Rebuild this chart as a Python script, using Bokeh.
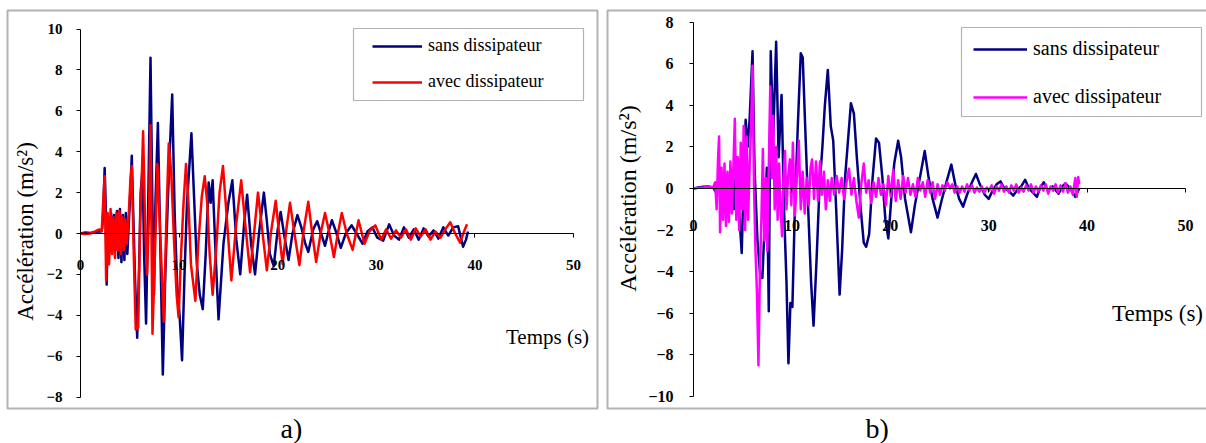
import math
from bokeh.plotting import figure
from bokeh.layouts import row
from bokeh.models import (Range1d, LinearAxis, FixedTicker, Label, Legend,
                          LegendItem, BoxAnnotation)
from bokeh.embed import file_html
from bokeh.resources import INLINE

# ---------------- data ----------------
X_TICKS = [0, 10, 20, 30, 40, 50]
Y_TICKS_A = [-8, -6, -4, -2, 0, 2, 4, 6, 8, 10]
Y_TICKS_B = [-10, -8, -6, -4, -2, 0, 2, 4, 6, 8]
LABEL_SANS = "sans dissipateur"
LABEL_AVEC = "avec dissipateur"

# panel a) - sans dissipateur
T_A_SANS = [0.0, 0.5, 1.0, 1.5, 2.0, 2.2, 2.3, 2.45, 2.55, 2.65,
            2.8, 2.95, 3.1, 3.25, 3.4, 3.55, 3.7, 3.85, 4.0, 4.15,
            4.3, 4.45, 4.6, 4.75, 4.9, 5.05, 5.2, 5.35, 5.55, 5.75,
            5.95, 6.1, 6.3, 6.45, 6.65, 6.85, 7.1, 7.3, 7.45, 7.6,
            7.85, 8.05, 8.35, 8.6, 8.85, 9.05, 9.3, 9.55, 9.8, 10.05,
            10.3, 10.55, 10.8, 11.0, 11.25, 11.5, 11.8, 12.1, 12.4, 12.7,
            13.0, 13.2, 13.4, 13.7, 14.0, 14.5, 15.0, 15.4, 15.8, 16.2,
            16.6, 16.9, 17.3, 17.7, 18.1, 18.6, 18.9, 19.2, 19.6, 20.0,
            20.3, 20.7, 21.1, 21.5, 22.0, 22.4, 22.8, 23.1, 23.6, 24.0,
            24.4, 24.8, 25.1, 25.5, 25.9, 26.4, 26.9, 27.5, 28.0, 28.6,
            29.1, 29.6, 30.1, 30.7, 31.3, 31.8, 32.3, 32.8, 33.3, 33.8,
            34.3, 34.8, 35.3, 35.8, 36.3, 36.8, 37.3, 37.8, 38.3, 38.8,
            39.1, 39.3]
A_A_SANS = [0.0, 0.05, 0.03, 0.08, 0.1, 0.25, 1.0, 3.2, 1.5, -2.5,
            0.8, -0.5, 1.0, -0.3, 0.9, -0.8, 1.1, -1.2, 1.2, -1.4,
            0.9, -1.3, 1.0, -1.0, 0.5, 2.0, 3.8, 1.0, -2.5, -5.1,
            -1.5, 2.0, 3.2, -1.0, -4.4, 1.0, 8.6, 1.0, -3.0, 1.5,
            5.4, 0.5, -6.9, -2.0, 1.5, 4.0, 6.8, 1.0, -2.5, -4.0,
            -6.2, -2.0, 1.5, 3.0, 4.9, 2.0, -1.5, -3.0, -3.7, -1.0,
            2.5, 1.5, 2.6, -1.0, -4.2, -0.5, 1.5, 2.6, -0.3, -2.0,
            0.5, 1.9, -0.5, -2.0, 0.0, 2.0, 0.6, -1.0, -1.6, 0.2,
            1.05, -0.2, -1.3, 0.0, 0.9, 0.3, -0.5, -0.9, 0.2, 0.6,
            0.0, -0.6, 0.0, 0.65, 0.1, -0.7, 0.0, 0.4, 0.0, -0.5,
            0.1, 0.3, -0.2, -0.35, 0.45, -0.1, -0.3, 0.3, -0.2, 0.2,
            -0.3, 0.25, -0.15, 0.15, -0.25, 0.3, -0.1, 0.3, 0.35, -0.65,
            -0.3, 0.1]

# panel a) - avec dissipateur
T_A_AVEC = [0.0, 0.5, 1.0, 1.5, 1.9, 2.15, 2.3, 2.45, 2.6, 2.75,
            2.9, 3.05, 3.2, 3.35, 3.5, 3.65, 3.8, 3.95, 4.1, 4.25,
            4.4, 4.55, 4.7, 4.9, 5.05, 5.2, 5.4, 5.6, 5.85, 6.05,
            6.2, 6.35, 6.55, 6.75, 6.95, 7.1, 7.2, 7.3, 7.55, 7.8,
            8.0, 8.25, 8.45, 8.7, 8.95, 9.2, 9.5, 9.75, 9.95, 10.2,
            10.45, 10.7, 10.95, 11.2, 11.45, 11.65, 11.95, 12.3, 12.6, 12.85,
            13.1, 13.4, 13.8, 14.1, 14.45, 14.8, 15.3, 15.8, 16.3, 16.7,
            17.2, 17.6, 18.0, 18.4, 18.9, 19.3, 19.8, 20.1, 20.5, 20.9,
            21.25, 21.7, 22.2, 22.65, 23.1, 23.5, 23.9, 24.35, 24.8, 25.25,
            25.7, 26.1, 26.5, 27.0, 27.6, 28.2, 28.8, 29.3, 29.9, 30.5,
            31.0, 31.5, 32.0, 32.5, 33.0, 33.5, 34.0, 34.5, 35.0, 35.5,
            36.0, 36.5, 37.0, 37.5, 38.0, 38.5, 38.9, 39.2]
A_A_AVEC = [0.0, -0.03, 0.0, 0.1, 0.2, 0.1, 1.5, 2.8, -2.3, 1.0,
            -1.5, 1.2, -1.0, 0.8, -1.2, 1.0, -0.8, 1.1, -1.0, 0.8,
            -0.8, 0.7, -0.5, 1.0, 2.5, 3.3, -1.0, -4.7, -4.6, 0.5,
            2.5, 5.0, 0.5, -2.0, 1.0, 5.3, 0.0, -4.9, -1.0, 3.4,
            1.0, -2.0, -4.3, 0.5, 4.4, 3.0, -0.5, -3.0, -4.1, -1.0,
            1.5, 3.4, 1.5, -1.5, -2.5, -3.3, -0.5, 1.8, 2.8, 1.5,
            -1.0, -3.0, -0.5, 2.0, 3.3, 1.0, -2.3, 0.5, 2.6, 0.5,
            -1.9, 0.0, 2.0, 0.3, -1.8, 0.0, 1.6, 0.2, -1.5, 0.3,
            1.5, 0.0, -1.55, 0.2, 1.55, 0.0, -1.4, 0.0, 1.0, 0.0,
            -1.15, 0.0, 1.0, 0.0, -0.8, 0.65, -0.5, 0.1, 0.4, -0.3,
            0.2, -0.25, 0.15, -0.2, 0.2, -0.3, 0.25, -0.15, 0.2, -0.3,
            0.1, -0.2, 0.2, 0.55, 0.0, -0.45, 0.1, 0.45]

# panel b) - sans dissipateur
T_B_SANS = [0.0, 0.5, 1.0, 1.5, 2.0, 2.3, 2.6, 2.9, 3.2, 3.5,
            3.8, 4.1, 4.4, 4.65, 4.9, 5.1, 5.3, 5.5, 5.7, 6.0,
            6.2, 6.5, 6.8, 7.0, 7.25, 7.45, 7.65, 7.85, 8.1, 8.4,
            8.65, 8.95, 9.2, 9.45, 9.65, 9.85, 10.05, 10.3, 10.6, 10.9,
            11.1, 11.35, 11.7, 11.95, 12.2, 12.5, 12.8, 13.1, 13.35, 13.65,
            13.95, 14.2, 14.5, 14.85, 15.1, 15.4, 15.7, 16.0, 16.3, 16.6,
            17.0, 17.3, 17.55, 17.85, 18.2, 18.55, 18.85, 19.2, 19.5, 19.8,
            20.1, 20.4, 20.8, 21.1, 21.5, 22.1, 22.5, 23.0, 23.5, 23.9,
            24.3, 24.8, 25.2, 25.7, 26.2, 26.6, 27.0, 27.4, 27.8, 28.3,
            28.7, 29.1, 29.6, 30.0, 30.4, 30.8, 31.2, 31.6, 32.0, 32.5,
            33.0, 33.3, 33.7, 34.1, 34.5, 34.9, 35.2, 35.6, 36.0, 36.5,
            37.1, 37.5, 37.8, 38.3, 38.8, 39.2]
A_B_SANS = [0.0, 0.05, 0.08, 0.1, 0.05, -0.2, 0.5, -0.6, 0.7, -0.8,
            0.9, -1.0, 1.5, -1.2, -3.1, 0.5, 3.3, 2.0, 3.3, 6.6,
            1.0, -2.5, -4.3, -4.3, -1.5, 1.0, -5.9, 6.6, 2.5, 7.05,
            1.5, 4.5, -1.0, -4.5, -8.4, -5.5, -5.7, -1.0, 3.0, 6.5,
            6.3, 3.0, -1.5, -4.5, -6.6, -3.5, 0.0, 2.0, 4.0, 5.7,
            3.0, 2.3, -1.0, -5.1, -3.0, 0.5, 2.3, 4.1, 3.6, 1.5,
            -1.0, -2.6, -2.8, -2.2, 0.5, 2.4, 2.2, 0.5, -1.5, -2.4,
            -0.5, 1.2, 2.3, 1.5, -0.5, -2.1, -0.8, 0.5, 1.8, 0.5,
            -0.5, -1.4, -0.6, 0.3, 1.15, 0.2, -0.5, -0.87, -0.3, 0.3,
            0.7, 0.2, -0.3, -0.5, -0.1, 0.2, 0.34, 0.0, -0.1, -0.34,
            0.0, 0.1, 0.42, 0.0, -0.2, -0.4, 0.0, 0.3, -0.1, 0.1,
            -0.25, 0.1, 0.25, 0.0, -0.4, 0.0]

# panel b) - avec dissipateur
T_B_AVEC = [0.0, 0.5, 1.0, 1.5, 2.0, 2.2, 2.35, 2.5, 2.6, 2.7,
            2.85, 3.0, 3.15, 3.3, 3.45, 3.6, 3.75, 3.9, 4.05, 4.2,
            4.35, 4.5, 4.65, 4.8, 4.95, 5.1, 5.25, 5.4, 5.55, 5.7,
            5.85, 6.0, 6.15, 6.3, 6.45, 6.6, 6.75, 6.9, 7.05, 7.2,
            7.35, 7.5, 7.65, 7.8, 7.95, 8.1, 8.25, 8.4, 8.55, 8.7,
            8.85, 9.0, 9.15, 9.3, 9.45, 9.6, 9.8, 9.95, 10.1, 10.3,
            10.5, 10.7, 10.9, 11.1, 11.3, 11.5, 11.7, 11.9, 12.05, 12.25,
            12.45, 12.65, 12.85, 13.05, 13.25, 13.45, 13.65, 13.85, 14.05, 14.3,
            14.55, 14.8, 15.05, 15.3, 15.55, 15.8, 16.05, 16.3, 16.55, 16.8,
            17.05, 17.3, 17.55, 17.8, 18.05, 18.3, 18.55, 18.8, 19.05, 19.3,
            19.55, 19.8, 20.05, 20.3, 20.55, 20.8, 21.05, 21.3, 21.55, 21.8,
            22.05, 22.3, 22.55, 22.8, 23.05, 23.3, 23.55, 23.8, 24.05, 24.3,
            24.55, 24.8, 25.05, 25.3, 25.55, 25.8, 26.05, 26.3, 26.55, 26.8,
            27.05, 27.3, 27.55, 27.8, 28.05, 28.3, 28.55, 28.8, 29.05, 29.3,
            29.55, 29.8, 30.05, 30.3, 30.55, 30.8, 31.05, 31.3, 31.55, 31.8,
            32.05, 32.3, 32.55, 32.8, 33.05, 33.3, 33.55, 33.8, 34.05, 34.3,
            34.55, 34.8, 35.05, 35.3, 35.55, 35.8, 36.05, 36.3, 36.55, 36.8,
            37.05, 37.3, 37.55, 37.8, 38.05, 38.3, 38.55, 38.8, 38.95, 39.1,
            39.2]
A_B_AVEC = [0.0, 0.03, 0.05, 0.08, 0.05, 0.3, -1.0, 1.5, 2.5, -2.1,
            1.0, -1.5, 1.2, -1.8, 0.8, -1.6, 1.3, -1.2, 1.0, 3.35,
            -1.5, 1.5, -2.0, 2.2, -1.0, 3.0, -2.0, 2.5, -1.5, 1.0,
            3.0, 5.9, 0.0, -3.0, -5.0, -8.5, -4.0, -1.5, 1.9, -2.5,
            0.5, -3.0, 1.0, 4.9, 0.5, 3.5, -1.0, 2.0, -1.5, 1.2,
            -1.0, -2.3, 0.5, 1.8, -1.0, 0.5, 1.4, -0.8, 2.2, -1.3,
            0.5, 2.3, -1.0, 0.8, -1.2, 0.5, -0.8, 1.0, 1.4, -0.5,
            1.3, -0.6, 1.3, -0.3, 0.8, -1.0, 0.4, -0.6, 0.5, -0.3,
            0.6, -0.2, 0.5, -0.5, 0.3, 0.95, -0.3, 0.5, -0.6, -1.4,
            0.2, 1.2, -0.2, 0.4, -0.7, 0.3, -0.4, 0.5, -0.3, 0.2,
            -0.8, 0.6, -0.4, 0.9, -0.6, 0.4, -0.5, 0.6, -0.2, 0.5,
            -0.3, 0.2, -0.4, 0.5, -0.1, 0.3, -0.4, 0.4, -0.2, 0.3,
            -0.5, 0.2, -0.3, 0.15, -0.1, 0.3, 0.0, 0.2, -0.2, 0.1,
            -0.2, 0.1, -0.15, 0.2, -0.1, 0.15, -0.2, 0.05, -0.15, 0.1,
            -0.2, 0.05, -0.1, 0.15, -0.25, 0.1, -0.1, 0.2, -0.15, 0.1,
            -0.2, 0.15, -0.1, 0.2, -0.2, 0.05, -0.15, 0.15, -0.1, 0.2,
            -0.2, 0.1, -0.15, 0.15, -0.1, 0.2, -0.25, 0.1, -0.1, 0.2,
            -0.2, 0.15, -0.15, 0.25, -0.2, 0.1, -0.3, 0.5, -0.4, 0.55,
            0.2]

# ---------------- styling / layout ----------------
SERIF = "Times"
NAVY = "#000080"
H = 443
PAGE_TOP = 0
PAGE_BOTTOM = PAGE_TOP + H


def make_panel(canvas_left, width, ox, kx, oy, ky, y_ticks, series, cfg):
    """ox/oy: page pixel of t=0 / a=0; kx, ky: pixels per unit."""
    px2x = lambda px: (px - ox) / kx
    py2y = lambda py: (oy - py) / ky
    p = figure(width=width, height=H,
               x_range=Range1d(px2x(canvas_left), px2x(canvas_left + width)),
               y_range=Range1d(py2y(PAGE_BOTTOM), py2y(PAGE_TOP)),
               x_axis_type=None, y_axis_type=None, title=None,
               toolbar_location=None, output_backend="svg",
               min_border=0, outline_line_color=None,
               background_fill_color="white", border_fill_color="white")

    common = dict(major_tick_out=4, major_tick_in=0,
                  minor_tick_out=0, minor_tick_in=0,
                  axis_line_color="black", major_tick_line_color="black",
                  major_label_text_font=SERIF,
                  major_label_text_font_style="bold",
                  major_label_text_font_size=cfg["tick_fs"],
                  major_label_text_color="black")
    yax = LinearAxis(fixed_location=0, bounds=(min(y_ticks), max(y_ticks)),
                     ticker=FixedTicker(ticks=y_ticks, minor_ticks=[]),
                     major_label_standoff=cfg["y_standoff"], **common)
    p.add_layout(yax, "left")
    xax = LinearAxis(fixed_location=0, bounds=(min(X_TICKS), max(X_TICKS)),
                     ticker=FixedTicker(ticks=X_TICKS, minor_ticks=[]),
                     major_label_standoff=cfg["x_standoff"], **common)
    p.add_layout(xax, "below")

    items = []
    for (t, a, color, label) in series:
        r = p.line(t, a, line_color=color, line_width=2.5, line_join="round")
        items.append(LegendItem(label=label, renderers=[r]))

    leg = Legend(items=items, location=cfg["legend_loc"], orientation="vertical",
                 glyph_width=cfg["glyph_w"], glyph_height=20, label_height=20,
                 label_standoff=6, padding=cfg["leg_pad"], spacing=cfg["leg_space"],
                 margin=0, border_line_color=None, background_fill_alpha=0,
                 label_text_font=SERIF, label_text_font_size=cfg["leg_fs"],
                 label_text_color="black")
    p.add_layout(leg)

    lb = cfg["legend_box"]
    p.add_layout(BoxAnnotation(left=px2x(lb[0]), right=px2x(lb[1]),
                               top=py2y(lb[2]), bottom=py2y(lb[3]),
                               fill_color=None, fill_alpha=0,
                               line_color="black", line_width=1.2))
    pb = cfg["panel_box"]
    p.add_layout(BoxAnnotation(left=px2x(pb[0]), right=px2x(pb[1]),
                               top=py2y(pb[2]), bottom=py2y(pb[3]),
                               fill_color=None, fill_alpha=0,
                               line_color="black", line_width=2))

    yl = cfg["ylabel"]
    p.add_layout(Label(x=px2x(yl[0]), y=py2y(yl[1]), text="Accélération (m/s²)",
                       angle=math.pi / 2, text_align="center", text_baseline="middle",
                       text_font=SERIF, text_font_size=cfg["ylabel_fs"],
                       text_color="black"))
    xl = cfg["xlabel"]
    p.add_layout(Label(x=px2x(xl[0]), y=py2y(xl[1]), text="Temps (s)",
                       text_align="center", text_baseline="middle",
                       text_font=SERIF, text_font_size=cfg["xlabel_fs"],
                       text_color="black"))
    cp = cfg["caption"]
    p.add_layout(Label(x=px2x(cp[0]), y=py2y(cp[1]), text=cfg["caption_text"],
                       text_align="left", text_baseline="middle",
                       text_font=SERIF, text_font_size="28px",
                       text_color="black"))
    return p


WA = 600
cfg_a = dict(tick_fs="15px", y_standoff=14, x_standoff=22,
             legend_loc=(372, 351), glyph_w=50, leg_pad=8, leg_space=15, leg_fs="18px",
             legend_box=(353, 583, 28, 100), panel_box=(7, 597, 10, 408),
             ylabel=(25, 231), ylabel_fs="23px", xlabel=(547, 336), xlabel_fs="21px",
             caption=(280, 428), caption_text="a)")
pa = make_panel(0, WA, 80, 9.86, 233, 20.44, Y_TICKS_A,
                [(T_A_SANS, A_A_SANS, NAVY, LABEL_SANS),
                 (T_A_AVEC, A_A_AVEC, "#FF0000", LABEL_AVEC)], cfg_a)

WB = 1206 - WA
cfg_b = dict(tick_fs="16px", y_standoff=16, x_standoff=27,
             legend_loc=(373, 335), glyph_w=54, leg_pad=13, leg_space=25, leg_fs="20px",
             legend_box=(961, 1201, 27, 116), panel_box=(607, 1230, 10, 408),
             ylabel=(627, 198), ylabel_fs="24px", xlabel=(1157, 313), xlabel_fs="23px",
             caption=(865, 428), caption_text="b)")
pb = make_panel(WA, WB, 693, 9.84, 188, 20.8, Y_TICKS_B,
                [(T_B_SANS, A_B_SANS, NAVY, LABEL_SANS),
                 (T_B_AVEC, A_B_AVEC, "#FF00FF", LABEL_AVEC)], cfg_b)

layout = row(pa, pb, spacing=0)
open("out.html", "w").write(file_html(layout, INLINE))
